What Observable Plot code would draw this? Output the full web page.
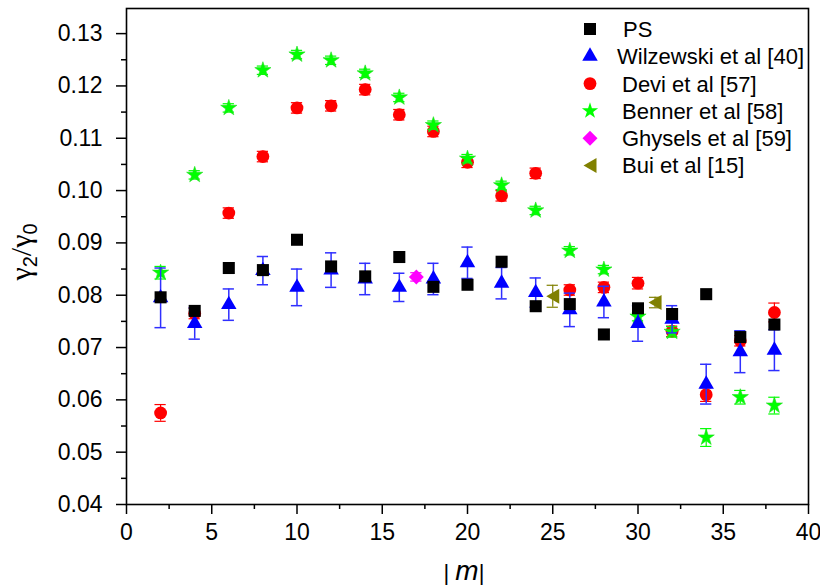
<!DOCTYPE html>
<html>
<head>
<meta charset="utf-8">
<script src="https://cdn.jsdelivr.net/npm/d3@7"></script>
<script src="https://cdn.jsdelivr.net/npm/@observablehq/plot@0.6"></script>
<style>
  body { margin: 0; background: #fff; }
  #chart { width: 820px; height: 586px; }
</style>
</head>
<body>
<div id="chart"></div>
<script>
// ---------- data ----------
const mValues = [2,4,6,8,10,12,14,16,18,20,22,24,26,28,30,32,34,36,38];

const psY = [0.0796,0.0770,0.0852,0.0848,0.0906,0.0855,0.0836,0.0873,0.0816,0.0820,0.0864,0.0779,0.0783,0.0725,0.0775,0.0764,0.0802,0.0720,0.0744];

const wilzY   = [0.0795,0.0746,0.0782,0.0847,0.0815,0.0848,0.0831,0.0815,0.0831,0.0862,0.0823,0.0805,0.0772,0.0787,0.0746,0.0754,0.0630,0.0692,0.0695];
const wilzErr = [0.0057,0.0030,0.0030,0.0027,0.0035,0.0033,0.0030,0.0027,0.0030,0.0030,0.0030,0.0028,0.0032,0.0030,0.0034,0.0026,0.0038,0.0040,0.0039];

const deviY   = [0.0575,0.0765,0.0957,0.1065,0.1158,0.1162,0.1193,0.1145,0.1113,0.1054,0.0990,0.1033,0.0810,0.0815,0.0823,0.0731,0.0610,0.0713,0.0767];
const deviErr = [0.0016,0.0010,0.0010,0.0010,0.0010,0.0010,0.0010,0.0010,0.0010,0.0010,0.0010,0.0010,0.0010,0.0010,0.0011,0.0010,0.0013,0.0010,0.0018];

const bennerY   = [0.0843,0.1030,0.1158,0.1230,0.1260,0.1249,0.1224,0.1178,0.1125,0.1061,0.1010,0.0962,0.0885,0.0849,0.0759,0.0730,0.0528,0.0605,0.0589];
const bennerErr = [0.0012,0.0008,0.0008,0.0008,0.0008,0.0008,0.0008,0.0008,0.0008,0.0008,0.0008,0.0008,0.0008,0.0008,0.0008,0.0010,0.0017,0.0013,0.0016];

const ghyselsM = [17];
const ghyselsY = [0.0835];
const ghyselsErr = [0.0008];

const buiM = [25, 31];
const buiY = [0.0798, 0.0786];
const buiErr = [0.0021, 0.0010];

const seriesNames = ["PS", "Wilzewski et al [40]", "Devi et al [57]", "Benner et al [58]", "Ghysels et al [59]", "Bui et al [15]"];
const seriesColors = ["#000000", "#0000ff", "#ff0000", "#00ff00", "#ff00ff", "#808000"];

const xMajorTicks = [0,5,10,15,20,25,30,35,40];
const xMinorTicks = [2.5,7.5,12.5,17.5,22.5,27.5,32.5,37.5];
const yMajorTicks = [0.04,0.05,0.06,0.07,0.08,0.09,0.10,0.11,0.12,0.13];
const yMinorTicks = [0.045,0.055,0.065,0.075,0.085,0.095,0.105,0.115,0.125];

// ---------- build tables ----------
const rows = (ms, ys, es) => ms.map((m, i) => ({ m, y: ys[i], e: es ? es[i] : 0 }));
const ps = rows(mValues, psY);
const wilz = rows(mValues, wilzY, wilzErr);
const devi = rows(mValues, deviY, deviErr);
const benner = rows(mValues, bennerY, bennerErr);
const ghysels = rows(ghyselsM, ghyselsY, ghyselsErr);
const bui = rows(buiM, buiY, buiErr);

// custom symbols
const triLeft = {
  draw(ctx, size) {
    const r = Math.sqrt(size / Math.PI);
    const w = r, h = r * 1.15;
    ctx.moveTo(-w, 0); ctx.lineTo(w, -h); ctx.lineTo(w, h); ctx.closePath();
  }
};
const diamond = {
  draw(ctx, size) {
    const r = Math.sqrt(size / Math.PI) * 1.1;
    ctx.moveTo(0, -r); ctx.lineTo(r, 0); ctx.lineTo(0, r); ctx.lineTo(-r, 0); ctx.closePath();
  }
};

const capHalf = 0.33;
function errorBars(data, color, width = 1.4) {
  return [
    Plot.ruleX(data, { x: "m", y1: d => d.y - d.e, y2: d => d.y + d.e, stroke: color, strokeWidth: width }),
    Plot.ruleY(data, { y: d => d.y + d.e, x1: d => d.m - capHalf, x2: d => d.m + capHalf, stroke: color, strokeWidth: width }),
    Plot.ruleY(data, { y: d => d.y - d.e, x1: d => d.m - capHalf, x2: d => d.m + capHalf, stroke: color, strokeWidth: width })
  ];
}

const symbols = [
  { sym: "square", r: 6.8 },
  { sym: "triangle", r: 5.75 },
  { sym: "circle", r: 6.4 },
  { sym: "star", r: 5.1 },
  { sym: diamond, r: 6.8 },
  { sym: triLeft, r: 6.5 }
];

const chart = Plot.plot({
  width: 820,
  height: 586,
  marginLeft: 126,
  marginRight: 12,
  marginTop: 8,
  marginBottom: 82,
  x: { domain: [0, 40] },
  y: { domain: [0.04, 0.1348] },
  style: { fontFamily: "'Liberation Sans', Arial, sans-serif", fontSize: "23px", color: "black", background: "white" },
  marks: [
    Plot.axisX({ ticks: xMajorTicks, tickSize: 10, tickPadding: 9, fontSize: 23, label: null, strokeWidth: 1.5 }),
    Plot.axisX({ ticks: xMinorTicks, tickSize: 5, tickFormat: () => "", label: null, strokeWidth: 1.5 }),
    Plot.axisY({ ticks: yMajorTicks, tickSize: 10, tickPadding: 14, tickFormat: d3.format(".2f"), fontSize: 23, label: null, strokeWidth: 1.5 }),
    Plot.axisY({ ticks: yMinorTicks, tickSize: 5, tickFormat: () => "", label: null, strokeWidth: 1.5 }),

    // Devi
    ...errorBars(devi, "#ff0000", 1.2),
    Plot.dot(devi, { x: "m", y: "y", symbol: symbols[2].sym, r: symbols[2].r, fill: seriesColors[2] }),
    // Benner
    ...errorBars(benner, "#00ff00", 1.2),
    Plot.dot(benner, { x: "m", y: "y", symbol: symbols[3].sym, r: symbols[3].r, fill: seriesColors[3], stroke: "#22dd22", strokeWidth: 0.6 }),
    // Ghysels
    ...errorBars(ghysels, "#ff00ff", 1.2),
    Plot.dot(ghysels, { x: "m", y: "y", symbol: symbols[4].sym, r: symbols[4].r, fill: seriesColors[4] }),
    // Bui
    ...errorBars(bui, "#808000", 1.2),
    Plot.dot(bui, { x: "m", y: "y", symbol: symbols[5].sym, r: symbols[5].r, fill: seriesColors[5] }),
    // Wilzewski
    ...errorBars(wilz, "#2f2fff", 1.5),
    Plot.dot(wilz, { x: "m", y: "y", symbol: symbols[1].sym, r: symbols[1].r, fill: seriesColors[1] }),
    // PS
    Plot.dot(ps, { x: "m", y: "y", symbol: symbols[0].sym, r: symbols[0].r, fill: seriesColors[0] }),

    Plot.frame({ stroke: "black", strokeWidth: 1.6 })
  ]
});

document.getElementById("chart").appendChild(chart);

// ---------- legend & axis titles ----------
const svg = d3.select(chart);
const lg = svg.append("g").attr("text-anchor", "start");
const legendTextX = [623, 617, 622, 622, 622, 622];
seriesNames.forEach((name, i) => {
  const cy = 29 + i * 27.3;
  const s = symbols[i];
  const size = Math.PI * s.r * s.r;
  const symType = typeof s.sym === "string"
    ? { square: d3.symbolSquare, triangle: d3.symbolTriangle, circle: d3.symbolCircle, star: d3.symbolStar }[s.sym]
    : s.sym;
  lg.append("path")
    .attr("d", d3.symbol().type(symType).size(size)())
    .attr("transform", `translate(590,${cy})`)
    .attr("fill", seriesColors[i]);
  lg.append("text")
    .attr("x", legendTextX[i])
    .attr("y", cy)
    .attr("dy", "0.36em")
    .attr("text-anchor", "start")
    .attr("font-size", 22)
    .attr("fill", "black")
    .text(name);
});

// y title: γ2/γ0
const yt = svg.append("text")
  .attr("transform", "translate(31,252) rotate(-90)")
  .attr("text-anchor", "middle")
  .attr("fill", "black");
yt.append("tspan").attr("font-family", "'Liberation Serif', 'DejaVu Serif', serif").attr("font-size", 30).text("γ");
yt.append("tspan").attr("font-size", 20).attr("dy", 6).text("2");
yt.append("tspan").attr("font-family", "'Liberation Serif', 'DejaVu Serif', serif").attr("font-size", 30).attr("dy", -6).text("/γ");
yt.append("tspan").attr("font-size", 20).attr("dy", 6).text("0");

// x title: |m|
const xt = svg.append("text")
  .attr("x", 464)
  .attr("y", 580)
  .attr("text-anchor", "middle")
  .attr("fill", "black");
xt.append("tspan").attr("font-size", 22).attr("font-weight", 300).text("|");
xt.append("tspan").attr("font-size", 28).attr("font-style", "italic").attr("dx", 6).text("m");
xt.append("tspan").attr("font-size", 22).attr("font-weight", 300).text("|");
</script>
</body>
</html>
